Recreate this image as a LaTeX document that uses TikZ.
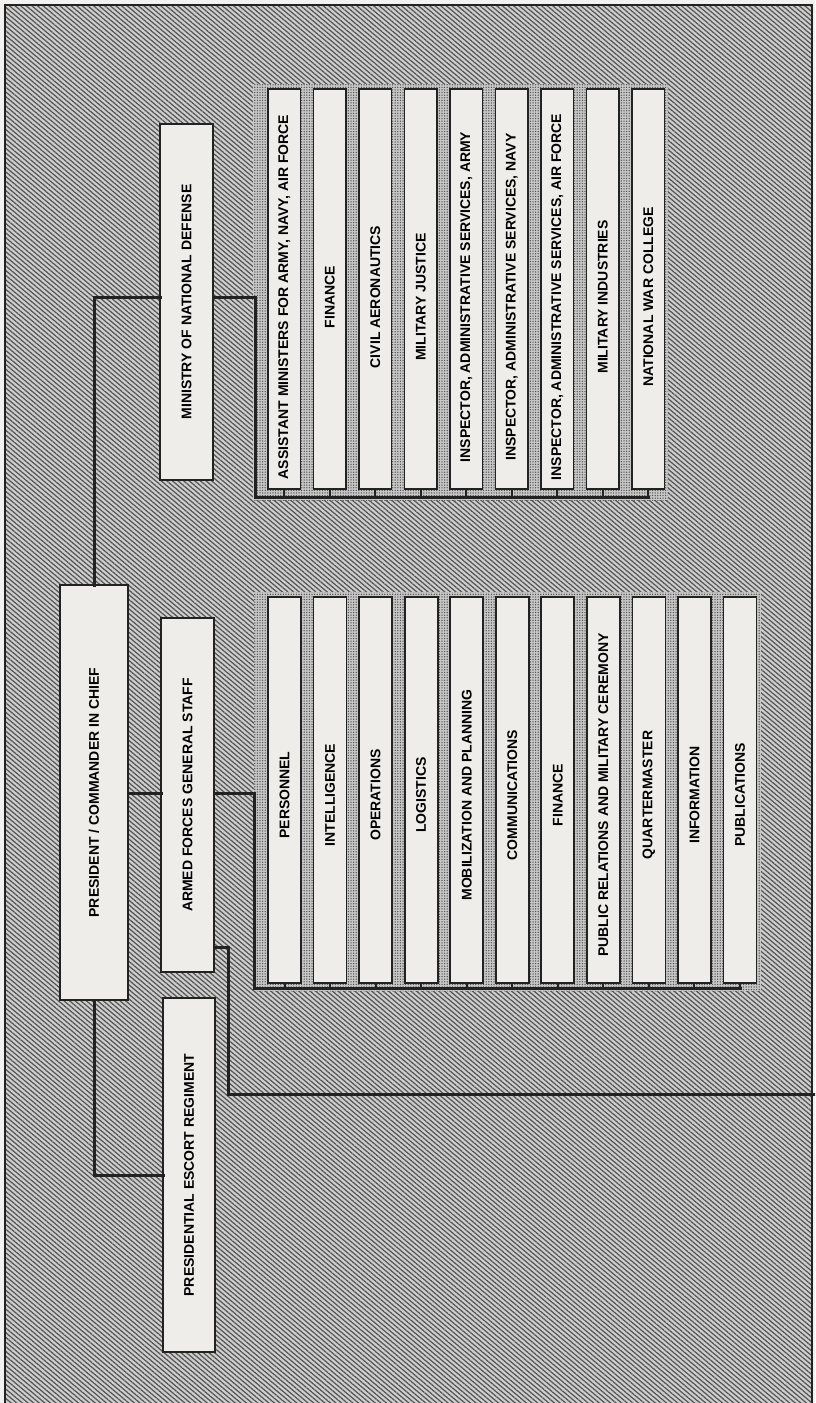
\documentclass[tikz,border=0pt]{standalone}
\usepackage{fontspec}
\setmainfont{Liberation Sans}
\usetikzlibrary{patterns.meta}
\definecolor{boxfill}{HTML}{EFEDEA}
\definecolor{ink}{HTML}{222222}
\definecolor{paper}{HTML}{F2F1EF}
\definecolor{hatchbg}{HTML}{CFCFCF}
\definecolor{hatchln}{HTML}{555555}
\definecolor{dotbg}{HTML}{C8C8C8}
\newcommand\labfont{\fontsize{14}{16}\selectfont\bfseries}
\begin{document}
\begin{tikzpicture}[x=1pt,y=-1pt,
  box/.style={draw=ink, line width=1.8pt, fill=boxfill, inner sep=0pt, outer sep=0pt},
  conn/.style={draw=ink, line width=3pt, line cap=rect},
  tick/.style={draw=ink, line width=2pt},
  hatch/.style={pattern={Lines[angle=-40,distance=3.6pt,line width=1.25pt]}, pattern color=hatchln},
  dotted area/.style={pattern={Dots[distance=2.6pt,radius=0.75pt]}, pattern color=hatchln}]
\useasboundingbox (0,0) rectangle (815,1403);
\clip (0,0) rectangle (815,1403);
\fill[paper] (0,0) rectangle (815,1403);
% hatched background
\fill[hatchbg] (5,5) rectangle (812,1420);
\fill[hatch] (5,5) rectangle (812,1420);
% dotted group areas
\fill[dotbg] (253,84) rectangle (668,500);
\fill[dotted area] (253,84) rectangle (668,500);
\fill[dotbg] (254,592) rectangle (761,991);
\fill[dotted area] (254,592) rectangle (761,991);
\draw[ink, line width=1.6pt] (5,5) rectangle (812,1420);

% main boxes
\node[box, minimum width=68pt, minimum height=415pt] (pres) at (94,792.5)
  {\rotatebox{90}{\labfont PRESIDENT / COMMANDER IN CHIEF}};
\node[box, minimum width=53pt, minimum height=356pt] (min) at (186.5,302)
  {\rotatebox{90}{\labfont MINISTRY OF NATIONAL DEFENSE}};
\node[box, minimum width=53pt, minimum height=354pt] (afgs) at (187.5,795)
  {\rotatebox{90}{\labfont ARMED FORCES GENERAL STAFF}};
\node[box, minimum width=52pt, minimum height=354pt] (esc) at (189,1175)
  {\rotatebox{90}{\labfont PRESIDENTIAL ESCORT REGIMENT}};

% ministry sub-boxes
\foreach \t [count=\i from 0] in {{ASSISTANT MINISTERS FOR ARMY, NAVY, AIR FORCE},FINANCE,CIVIL AERONAUTICS,MILITARY JUSTICE,{INSPECTOR, ADMINISTRATIVE SERVICES, ARMY},{INSPECTOR, ADMINISTRATIVE SERVICES, NAVY},{INSPECTOR, ADMINISTRATIVE SERVICES, AIR FORCE},MILITARY INDUSTRIES,NATIONAL WAR COLLEGE}{
  \node[box, minimum width=32.5pt, minimum height=400pt] (m\i) at ({284.25+45.5*\i},289)
    {\rotatebox{90}{\labfont \t\hspace*{16pt}}};
}
% staff sub-boxes
\foreach \t [count=\i from 0] in {PERSONNEL,INTELLIGENCE,OPERATIONS,LOGISTICS,MOBILIZATION AND PLANNING,COMMUNICATIONS,FINANCE,PUBLIC RELATIONS AND MILITARY CEREMONY,QUARTERMASTER,INFORMATION,PUBLICATIONS}{
  \node[box, minimum width=33pt, minimum height=386pt] (s\i) at ({284.5+45.55*\i},790)
    {\rotatebox{90}{\labfont \t\hspace*{10pt}}};
}

% helper coordinates
\coordinate (mlev) at (0,297);
\coordinate (mbus) at (255,497);
\coordinate (slev) at (0,793);
\coordinate (sbus) at (254,988);
\coordinate (k1) at (228,947);
\coordinate (exitpt) at (820,1094);

% connectors
\draw[conn] (pres.north) |- (min.west |- mlev);
\draw[conn] (min.east |- mlev) -| (mbus) -- (m8.south |- mbus);
\foreach \i in {0,...,8} \draw[tick] (m\i.south) -- (m\i.south |- mbus);
\draw[conn] (pres.east |- slev) -- (afgs.west |- slev);
\draw[conn] (afgs.east |- slev) -| (sbus) -- (s10.south |- sbus);
\foreach \i in {0,...,10} \draw[tick] (s\i.south) -- (s\i.south |- sbus);
\draw[conn] (afgs.east |- k1) -- (k1) |- (exitpt);
\draw[conn] (pres.south) |- (esc.west);
\end{tikzpicture}
\end{document}
